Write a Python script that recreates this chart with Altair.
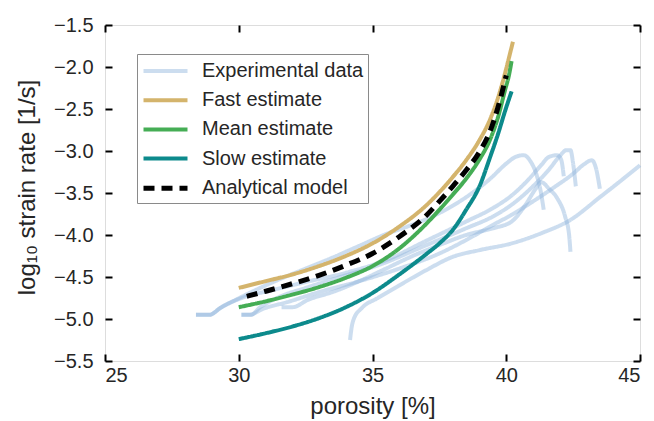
import altair as alt
import pandas as pd

# ---- data ----
series_order = ["Experimental data", "Fast estimate", "Mean estimate", "Slow estimate", "Analytical model"]
series_colors = ["#8fb4dc", "#d4b46c", "#45ad55", "#0c8a8c", "#000000"]

fast_x = [30.0, 31.0, 32.0, 33.0, 34.0, 35.0, 36.0, 37.0, 37.5, 38.0, 38.5, 39.0, 39.4, 39.7, 39.95, 40.14, 40.25]
fast_y = [-4.63, -4.55, -4.47, -4.37, -4.25, -4.10, -3.90, -3.65, -3.49, -3.31, -3.11, -2.87, -2.62, -2.36, -2.08, -1.84, -1.70]

mean_x = [30.0, 31.0, 32.0, 33.0, 34.0, 35.0, 36.0, 37.0, 37.5, 38.0, 38.5, 39.0, 39.4, 39.7, 39.95, 40.1, 40.2]
mean_y = [-4.86, -4.79, -4.71, -4.62, -4.51, -4.37, -4.16, -3.87, -3.70, -3.52, -3.33, -3.10, -2.86, -2.59, -2.28, -2.10, -1.93]

slow_x = [30.0, 31.0, 32.0, 33.0, 34.0, 35.0, 36.0, 37.0, 37.5, 38.0, 38.5, 39.0, 39.4, 39.7, 39.95, 40.2]
slow_y = [-5.24, -5.17, -5.09, -4.99, -4.86, -4.69, -4.47, -4.23, -4.10, -3.94, -3.70, -3.42, -3.07, -2.79, -2.53, -2.29]

model_x = [30.3, 31.0, 32.0, 33.0, 34.0, 35.0, 36.0, 37.0, 37.5, 38.0, 38.5, 39.0, 39.4, 39.7, 40.0]
model_y = [-4.73, -4.67, -4.58, -4.48, -4.36, -4.22, -4.02, -3.77, -3.60, -3.42, -3.23, -3.01, -2.76, -2.47, -2.10]

exp1_x = [28.4, 28.9, 29.3, 29.9, 30.6, 31.5, 32.5, 33.5, 34.5, 35.5, 36.3, 37.3, 38.5, 39.4, 40.0, 40.35, 40.65, 40.9, 41.15, 41.3, 41.4]
exp1_y = [-4.95, -4.95, -4.87, -4.77, -4.66, -4.53, -4.40, -4.27, -4.13, -3.99, -3.90, -3.77, -3.55, -3.33, -3.15, -3.07, -3.05, -3.12, -3.30, -3.50, -3.70]

exp2_x = [28.4, 28.9, 29.4, 30.2, 31.2, 32.5, 34.0, 35.5, 37.0, 38.5, 39.5, 40.2, 40.8, 41.3, 41.6, 41.9, 42.05, 42.15]
exp2_y = [-4.95, -4.95, -4.85, -4.74, -4.66, -4.56, -4.45, -4.30, -4.07, -3.84, -3.68, -3.53, -3.35, -3.17, -3.07, -3.05, -3.10, -3.30]

exp3_x = [30.1, 30.45, 30.8, 31.5, 32.5, 33.8, 35.3, 36.8, 38.5, 39.5, 40.2, 41.0, 41.6, 42.0, 42.25, 42.4, 42.5, 42.6]
exp3_y = [-4.95, -4.95, -4.86, -4.74, -4.63, -4.50, -4.35, -4.15, -3.92, -3.78, -3.64, -3.42, -3.22, -3.06, -2.99, -2.99, -3.15, -3.42]

exp4_x = [31.6, 32.0, 32.6, 33.5, 34.5, 35.5, 36.5, 37.5, 38.5, 39.5, 40.2, 40.7, 41.1, 41.3, 41.6, 41.9, 42.2, 42.35, 42.4]
exp4_y = [-4.86, -4.86, -4.77, -4.68, -4.55, -4.40, -4.25, -4.12, -4.00, -3.92, -3.84, -3.65, -3.45, -3.37, -3.45, -3.56, -3.78, -4.00, -4.20]

exp5_x = [30.1, 30.4, 30.9, 31.8, 33.0, 34.5, 36.0, 37.5, 38.5, 39.5, 40.2, 41.0, 41.8, 42.5, 42.9, 43.2, 43.35, 43.5]
exp5_y = [-4.95, -4.95, -4.88, -4.80, -4.68, -4.55, -4.40, -4.22, -4.06, -3.88, -3.76, -3.60, -3.43, -3.27, -3.16, -3.11, -3.20, -3.45]

exp6_x = [34.16, 34.22, 34.3, 34.6, 35.2, 36.0, 37.0, 38.0, 39.0, 40.2, 41.3, 42.4, 43.5, 44.3, 45.0]
exp6_y = [-5.25, -5.10, -5.00, -4.87, -4.75, -4.60, -4.42, -4.26, -4.18, -4.10, -3.98, -3.82, -3.55, -3.35, -3.17]

x_ticks = [25, 30, 35, 40, 45]
y_ticks = [-5.5, -5.0, -4.5, -4.0, -3.5, -3.0, -2.5, -2.0, -1.5]

# ---- long table ----
rows = []
def add(series, curve, xs, ys):
    for i, (xv, yv) in enumerate(zip(xs, ys)):
        rows.append({"series": series, "curve": curve, "idx": i, "x": xv, "y": yv})

for k, (xs, ys) in enumerate([(exp1_x, exp1_y), (exp2_x, exp2_y), (exp3_x, exp3_y),
                              (exp4_x, exp4_y), (exp5_x, exp5_y), (exp6_x, exp6_y)]):
    add("Experimental data", f"exp{k+1}", xs, ys)
add("Fast estimate", "fast", fast_x, fast_y)
add("Mean estimate", "mean", mean_x, mean_y)
add("Slow estimate", "slow", slow_x, slow_y)
add("Analytical model", "model", model_x, model_y)
df = pd.DataFrame(rows)

FONT = "Liberation Sans"
TXT = "#262626"

xscale = alt.Scale(domain=[25, 45], nice=False, zero=False)
yscale = alt.Scale(domain=[-5.5, -1.5], nice=False, zero=False)

legend = alt.Legend(
    title=None, orient="none", legendX=32, legendY=29,
    symbolType="M-2,0L2,0", symbolSize=484, symbolStrokeWidth=4,
    symbolOffset=11, labelOffset=23, labelFontSize=20, labelFont=FONT,
    labelColor=TXT, rowPadding=6.2, padding=4, strokeColor="#8a8a8a",
    fillColor="white", labelLimit=400,
)

lines = alt.Chart(df).mark_line(strokeCap="butt", strokeJoin="round", interpolate="monotone").encode(
    x=alt.X("x:Q", scale=xscale, axis=alt.Axis(
        orient="bottom", values=x_ticks, format="d", ticks=False, domain=False, grid=False,
        labelPadding=4, labelFontSize=20, labelFont=FONT, labelColor=TXT,
        title="porosity [%]", titleFontSize=24, titleFont=FONT, titleColor=TXT,
        titleFontWeight="normal", titleY=52, titleBaseline="alphabetic")),
    y=alt.Y("y:Q", scale=yscale, axis=alt.Axis(
        orient="left", values=y_ticks, format=".1f", ticks=False, domain=False, grid=False,
        labelPadding=12, labelFontSize=20, labelFont=FONT, labelColor=TXT,
        title="log₁₀ strain rate [1/s]", titleFontSize=24, titleFont=FONT, titleColor=TXT,
        titleFontWeight="normal", titleX=-78, titleY=162, titleAngle=270,
        titleAlign="center", titleBaseline="middle")),
    color=alt.Color("series:N", scale=alt.Scale(domain=series_order, range=series_colors), legend=legend),
    strokeDash=alt.StrokeDash("series:N", scale=alt.Scale(domain=series_order, range=[[1, 0], [1, 0], [1, 0], [1, 0], [11, 7]]), legend=legend),
    opacity=alt.Opacity("series:N", scale=alt.Scale(type="ordinal", domain=series_order, range=[0.45, 1, 1, 1, 1]), legend=legend),
    strokeWidth=alt.StrokeWidth("series:N", scale=alt.Scale(type="ordinal", domain=series_order, range=[4, 4, 4, 4, 5]), legend=legend),
    detail="curve:N",
    order="idx:Q",
)

def tick_axis(orient, values):
    return alt.Axis(orient=orient, values=values, offset=-7, tickSize=7, tickWidth=2, tickColor="black",
                    labels=False, domain=False, grid=False, title=None, zindex=2)

ticks_a = alt.Chart(df).mark_point(opacity=0, size=1).encode(
    x=alt.X("x:Q", scale=xscale, axis=tick_axis("bottom", x_ticks)),
    y=alt.Y("y:Q", scale=yscale, axis=tick_axis("left", y_ticks)),
)
ticks_b = alt.Chart(df).mark_point(opacity=0, size=1).encode(
    x=alt.X("x:Q", scale=xscale, axis=tick_axis("top", x_ticks)),
    y=alt.Y("y:Q", scale=yscale, axis=tick_axis("right", y_ticks)),
)

chart = alt.layer(lines, ticks_a, ticks_b).resolve_axis(
    x="independent", y="independent"
).properties(
    width=535, height=336,
    autosize=alt.AutoSizeParams(type="none"),
    padding={"left": 105, "top": 25, "right": 14, "bottom": 60},
).configure_view(
    stroke="black", strokeWidth=2
).configure(
    font=FONT, background="white"
)

chart.save("out.html", embed_options={"renderer": "svg", "actions": False})
